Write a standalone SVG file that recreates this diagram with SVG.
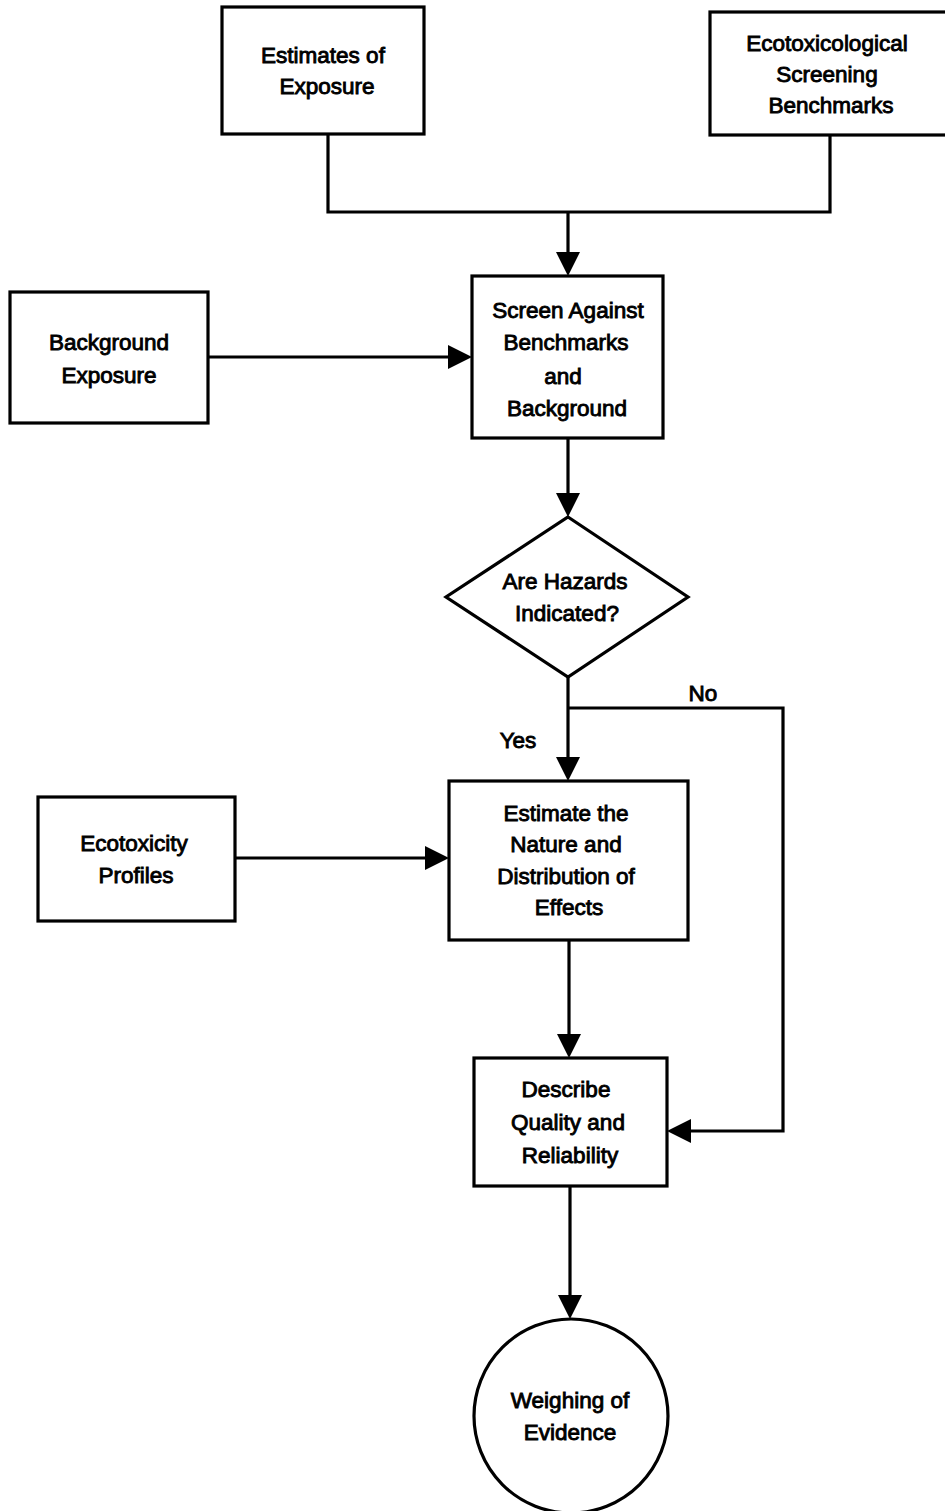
<svg xmlns="http://www.w3.org/2000/svg" width="945" height="1511" viewBox="0 0 945 1511">
  <style>
    .box { fill: #ffffff; stroke: #000000; stroke-width: 3.2; }
    .wire { fill: none; stroke: #000000; stroke-width: 3.2; }
    .lbl { font-family: "Liberation Sans", Arial, sans-serif; font-size: 22.5px; fill: #000000; stroke: #000000; stroke-width: 0.9; text-anchor: middle; }
  </style>
  <rect width="945" height="1511" fill="#ffffff"/>

  <g id="connectors">
    <!-- merge of the two top inputs -->
    <polyline class="wire" points="328,134 328,212 830,212 830,135"/>
    <line class="wire" x1="568" y1="212" x2="568" y2="254"/>
    <polygon points="556,252 580,252 568,276" fill="#000"/>
    <!-- background exposure -> screen -->
    <line class="wire" x1="208" y1="357" x2="450" y2="357"/>
    <polygon points="448,345 472,357 448,369" fill="#000"/>
    <!-- screen -> decision -->
    <line class="wire" x1="568" y1="438" x2="568" y2="495"/>
    <polygon points="556,493 580,493 568,517" fill="#000"/>
    <!-- decision: yes -->
    <line class="wire" x1="568" y1="677" x2="568" y2="759"/>
    <polygon points="556,757 580,757 568,781" fill="#000"/>
    <!-- decision: no -->
    <polyline class="wire" points="568,708 783,708 783,1131 689,1131"/>
    <polygon points="691,1119 667,1131 691,1143" fill="#000"/>
    <!-- ecotoxicity profiles -> estimate -->
    <line class="wire" x1="235" y1="858" x2="427" y2="858"/>
    <polygon points="425,846 449,858 425,870" fill="#000"/>
    <!-- estimate -> describe -->
    <line class="wire" x1="569" y1="940" x2="569" y2="1036"/>
    <polygon points="557,1034 581,1034 569,1058" fill="#000"/>
    <!-- describe -> weighing -->
    <line class="wire" x1="570" y1="1186" x2="570" y2="1297"/>
    <polygon points="558,1295 582,1295 570,1319" fill="#000"/>
    <text class="lbl" x="703" y="701">No</text>
    <text class="lbl" x="518" y="748">Yes</text>
  </g>

  <g id="estimates-of-exposure">
    <rect class="box" x="222" y="7" width="202" height="127"/>
    <text class="lbl" x="323" y="63">Estimates of</text>
    <text class="lbl" x="327" y="94">Exposure</text>
  </g>

  <g id="screening-benchmarks">
    <rect class="box" x="710" y="12" width="240" height="123"/>
    <text class="lbl" x="827" y="51">Ecotoxicological</text>
    <text class="lbl" x="827" y="82">Screening</text>
    <text class="lbl" x="831" y="113">Benchmarks</text>
  </g>

  <g id="background-exposure">
    <rect class="box" x="10" y="292" width="198" height="131"/>
    <text class="lbl" x="109" y="350">Background</text>
    <text class="lbl" x="109" y="383">Exposure</text>
  </g>

  <g id="screen-against">
    <rect class="box" x="472" y="276" width="191" height="162"/>
    <text class="lbl" x="568" y="318">Screen Against</text>
    <text class="lbl" x="566" y="350">Benchmarks</text>
    <text class="lbl" x="563" y="384">and</text>
    <text class="lbl" x="567" y="416">Background</text>
  </g>

  <g id="hazards-decision">
    <polygon class="box" points="568,517 688,597 568,677 446,597"/>
    <text class="lbl" x="565" y="589">Are Hazards</text>
    <text class="lbl" x="567" y="621">Indicated?</text>
  </g>

  <g id="ecotoxicity-profiles">
    <rect class="box" x="38" y="797" width="197" height="124"/>
    <text class="lbl" x="134" y="851">Ecotoxicity</text>
    <text class="lbl" x="136" y="883">Profiles</text>
  </g>

  <g id="estimate-effects">
    <rect class="box" x="449" y="781" width="239" height="159"/>
    <text class="lbl" x="566" y="821">Estimate the</text>
    <text class="lbl" x="566" y="852">Nature and</text>
    <text class="lbl" x="566" y="884">Distribution of</text>
    <text class="lbl" x="569" y="915">Effects</text>
  </g>

  <g id="describe-quality">
    <rect class="box" x="474" y="1058" width="193" height="128"/>
    <text class="lbl" x="566" y="1097">Describe</text>
    <text class="lbl" x="568" y="1130">Quality and</text>
    <text class="lbl" x="570" y="1163">Reliability</text>
  </g>

  <g id="weighing-of-evidence">
    <circle class="box" cx="571" cy="1416" r="97"/>
    <text class="lbl" x="570" y="1408">Weighing of</text>
    <text class="lbl" x="570" y="1440">Evidence</text>
  </g>
</svg>
